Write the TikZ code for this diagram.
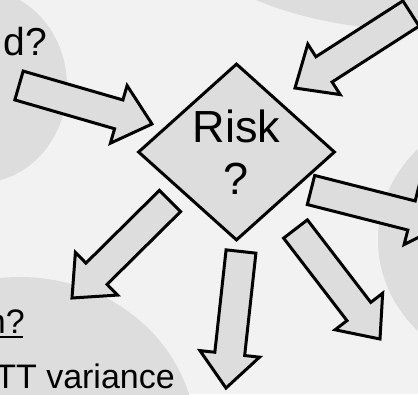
\documentclass[tikz,border=0pt]{standalone}
\usepackage{fontspec}
\setmainfont{Liberation Sans}
\definecolor{bggray}{HTML}{F2F2F2}
\definecolor{shapegray}{HTML}{DDDDDD}
\usetikzlibrary{shapes.geometric, calc}
\tikzset{
	cloud/.style={fill=shapegray},
	riskbox/.style={diamond, draw=black, fill=shapegray, line width=3pt, minimum width=197pt, minimum height=177pt, inner sep=0pt, align=center, font=\fontsize{45}{52}\selectfont},
	bigarrow/.style={draw=black, fill=shapegray, line width=3pt, line join=miter},
	cuttext/.style={inner sep=0pt, anchor=base east},
}
\newcommand{\blockarrow}[2]{%
	\coordinate (#1-h) at ($(#1)!0.75!(#2)$);
	\draw[bigarrow] ($(#1)!15pt!90:(#2)$) -- ($(#1-h)!15pt!90:(#2)$) -- ($(#1-h)!30pt!90:(#2)$) -- (#2)
		-- ($(#1-h)!30pt!-90:(#2)$) -- ($(#1-h)!15pt!-90:(#2)$) -- ($(#1)!15pt!-90:(#2)$) -- cycle;
}

\begin{document}
\begin{tikzpicture}[x=1pt, y=-1pt]
	\useasboundingbox (0,0) rectangle (418,394);
	\clip (0,0) rectangle (418,394);
	\fill[bggray] (0,0) rectangle (418,394);
	% clouds round the cut-off texts
	\fill[cloud] (-21,86) ellipse [x radius=88pt, y radius=97pt];
	\fill[cloud] (430,-79) ellipse [x radius=250pt, y radius=110pt];
	\fill[cloud] (518,240) ellipse [x radius=140pt, y radius=130pt];
	\fill[cloud] (20,440) ellipse [x radius=176pt, y radius=163pt];
	\node[cuttext, font=\fontsize{39}{45}\selectfont] (asked) at (47,55) {d?};
	\node[cuttext, font=\fontsize{34}{40}\selectfont] (question) at (25,333) {n?};
	\draw[line width=2pt] ($(question.base west)+(0,4)$) -- ($(question.base east)+(-2,4)$);
	\node[cuttext, font=\fontsize{34}{40}\selectfont] (variance) at (175,388) {TT variance};
	\node[riskbox] (risk) at (236.5,152) {Risk\\?};
	% arrows in and out
	\coordinate (tail1) at (19,85.5);   \coordinate (tip1) at (152,124);
	\coordinate (tail2) at (411,13.5);  \coordinate (tip2) at (295,88);
	\coordinate (tail3) at (311,190);   \coordinate (tip3) at (445,224);
	\coordinate (tail4) at (170,201);   \coordinate (tip4) at (72,298);
	\coordinate (tail5) at (241,251.5); \coordinate (tip5) at (226,388);
	\coordinate (tail6) at (295.5,229); \coordinate (tip6) at (380,339);
	\blockarrow{tail1}{tip1}
	\blockarrow{tail2}{tip2}
	\blockarrow{tail3}{tip3}
	\blockarrow{tail4}{tip4}
	\blockarrow{tail5}{tip5}
	\blockarrow{tail6}{tip6}
\end{tikzpicture}
\end{document}
